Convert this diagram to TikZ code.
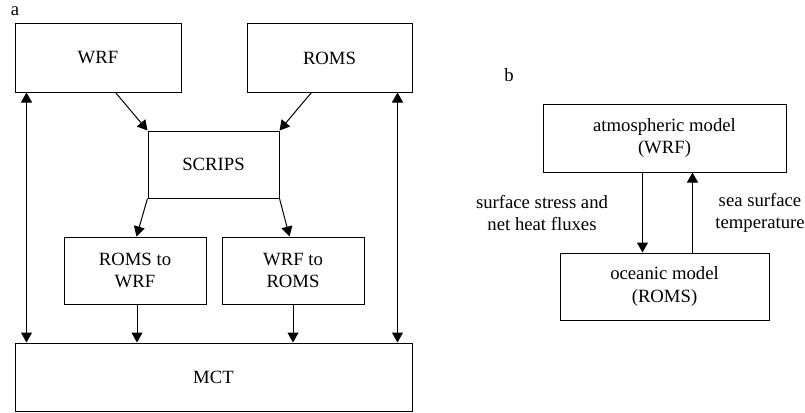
\documentclass[tikz,border=0pt]{standalone}
\usepackage{fontspec}
\setmainfont{Liberation Serif}
\usetikzlibrary{arrows.meta,calc}
\begin{document}
\begin{tikzpicture}[x=1pt,y=-1pt,
  box/.style={draw,line width=1pt,rectangle,inner sep=0pt,align=center,
    font=\fontsize{18.7}{22.5}\selectfont},
  lbl/.style={inner sep=0pt,align=center,font=\fontsize{18.7}{22.5}\selectfont},
  arr/.style={line width=1pt,-{Triangle[length=10pt,width=11pt]}},
  darr/.style={line width=1pt,{Triangle[length=10pt,width=11pt]}-{Triangle[length=10pt,width=11pt]}}]
\useasboundingbox (0,0) rectangle (805,412);
% panel a
\node[lbl] (la) at (15,11) {a};
\node[box,minimum width=166pt,minimum height=68pt] (wrf) at (98,58) {WRF};
\node[box,minimum width=165pt,minimum height=68pt] (roms) at (329.5,58) {ROMS};
\node[box,minimum width=131pt,minimum height=67pt] (scrips) at (213.5,164.5) {SCRIPS};
\node[box,minimum width=142pt,minimum height=67pt] (r2w) at (135,270.5) {ROMS to\\WRF};
\node[box,minimum width=142pt,minimum height=67pt] (w2r) at (293,270.5) {WRF to\\ROMS};
\node[box,minimum width=397pt,minimum height=68pt] (mct) at (213.5,377) {MCT};
\draw[arr] ([xshift=101pt]wrf.south west) -- (scrips.north west);
\draw[arr] ([xshift=65pt]roms.south west) -- (scrips.north east);
\draw[arr] (scrips.south west) -- ([xshift=73pt]r2w.north west);
\draw[arr] (scrips.south east) -- ([xshift=68pt]w2r.north west);
\draw[arr] ([xshift=2pt]r2w.south) -- ([xshift=2pt]r2w.south |- mct.north);
\draw[arr] (w2r.south) -- (w2r.south |- mct.north);
\draw[darr] ([xshift=12pt]wrf.south west) -- ([xshift=12pt]wrf.south west |- mct.north);
\draw[darr] ([xshift=-15pt]roms.south east) -- ([xshift=-15pt]roms.south east |- mct.north);
% panel b
\node[lbl] (lb) at (509,75) {b};
\node[box,minimum width=243pt,minimum height=68pt] (atm) at (664.5,138) {atmospheric model\\(WRF)};
\node[box,minimum width=209pt,minimum height=67pt] (oce) at (664.5,286.5) {oceanic model\\(ROMS)};
\draw[arr] ([xshift=100pt]atm.south west) -- ([xshift=100pt]atm.south west |- oce.north);
\draw[arr] ([xshift=133pt]oce.north west) -- ([xshift=133pt]oce.north west |- atm.south);
\node[lbl] (ls) at (542,213) {surface stress and\\net heat fluxes};
\node[lbl] (lt) at (760,213) {sea surface\\temperature};
\end{tikzpicture}
\end{document}
